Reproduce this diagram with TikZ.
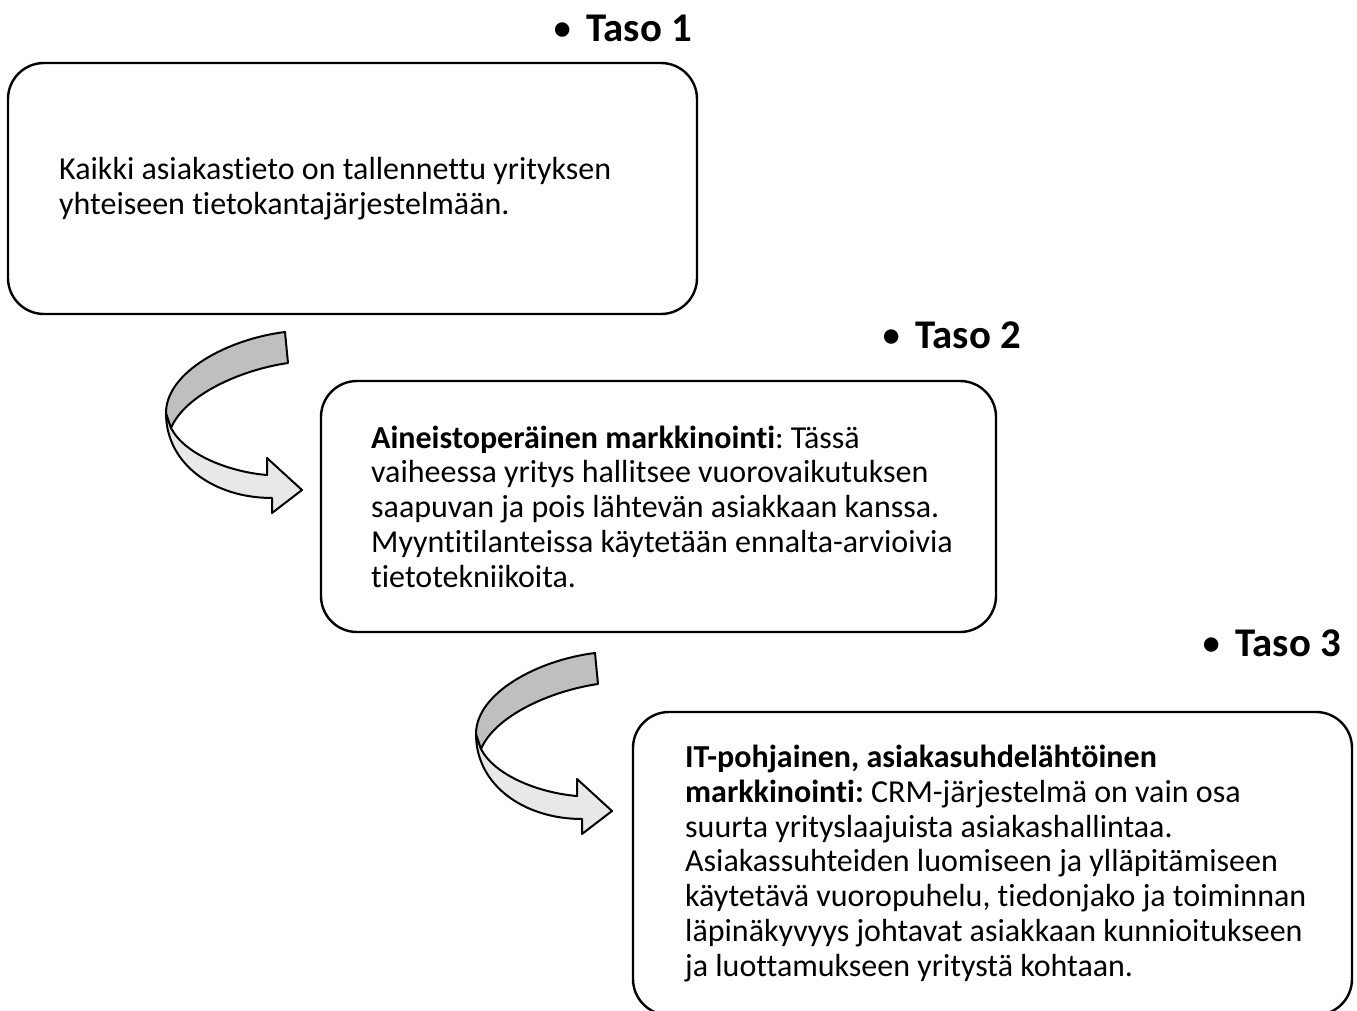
\documentclass[tikz,border=0pt]{standalone}
\usepackage{fontspec}
\setmainfont{Carlito}[Ligatures=NoCommon]
\usepackage{xcolor}
\definecolor{ribbondark}{gray}{0.75}
\definecolor{ribbonlight}{gray}{0.91}
\tikzset{
  levelbox/.style={draw, line width=1.2pt, rounded corners=18pt},
  leveltext/.style={anchor=west, inner sep=0pt, align=left,
    font=\fontsize{16pt}{17.4pt}\selectfont},
  levellabel/.style={anchor=base east, font=\fontsize{20.4pt}{25pt}\selectfont\bfseries},
  ribbon/.style={draw, line width=1pt, line join=round}
}
\begin{document}
\frenchspacing
\begin{tikzpicture}[x=0.5pt,y=-0.5pt]
        \useasboundingbox (0,0) rectangle (1357,1011);
        % levels
        \node[levelbox, minimum width=344.5pt, minimum height=125.5pt] (box1) at (352.5,188.5) {};
        \node[levelbox, minimum width=337.5pt, minimum height=125.5pt] (box2) at (658.5,506.5) {};
        \node[levelbox, minimum width=359.5pt, minimum height=151.5pt] (box3) at (992.5,863.5) {};
        \node[leveltext, xshift=26pt] (text1) at (box1.west)
          {Kaikki asiakastieto on tallennettu yrityksen\\ yhteiseen tietokantajärjestelmään.};
        \node[leveltext, xshift=25.5pt] (text2) at (box2.west)
          {\textbf{Aineistoperäinen markkinointi}: Tässä\\ vaiheessa yritys hallitsee vuorovaikutuksen\\ saapuvan ja pois lähtevän asiakkaan kanssa.\\ Myyntitilanteissa käytetään ennalta-arvioivia\\ tietotekniikoita.};
        \node[leveltext, xshift=26.5pt] (text3) at (box3.west)
          {\textbf{IT-pohjainen, asiakasuhdelähtöinen}\\ \textbf{markkinointi:} CRM-järjestelmä on vain osa\\ suurta yrityslaajuista asiakashallintaa.\\ Asiakassuhteiden luomiseen ja ylläpitämiseen\\ käytetävä vuoropuhelu, tiedonjako ja toiminnan\\ läpinäkyvyys johtavat asiakkaan kunnioitukseen\\ ja luottamukseen yritystä kohtaan.};
        % level titles
        \node[levellabel] (lab1) at (699,42)  {{\mdseries\textbullet}\hspace{7pt}Taso 1};
        \node[levellabel] (lab2) at (1028,349) {{\mdseries\textbullet}\hspace{7pt}Taso 2};
        \node[levellabel] (lab3) at (1348,656) {{\mdseries\textbullet}\hspace{7pt}Taso 3};
        % curled arrows between the levels
        \foreach \dx/\dy in {0/0, 310/321} {
          \begin{scope}[shift={(\dx,\dy)}]
            \filldraw[ribbon, fill=ribbonlight] (171,428)
              .. controls (185,455) and (230,472) .. (267,475)
              -- (267,458) -- (302,490) -- (272,513) -- (272,498)
              .. controls (215,498) and (166,465) .. (166,413) -- cycle;
            \filldraw[ribbon, fill=ribbondark] (285,332)
              .. controls (228,339) and (166,372) .. (166,413)
              -- (171,428)
              .. controls (185,395) and (240,370) .. (288,363) -- cycle;
          \end{scope}
        }
\end{tikzpicture}
\end{document}
